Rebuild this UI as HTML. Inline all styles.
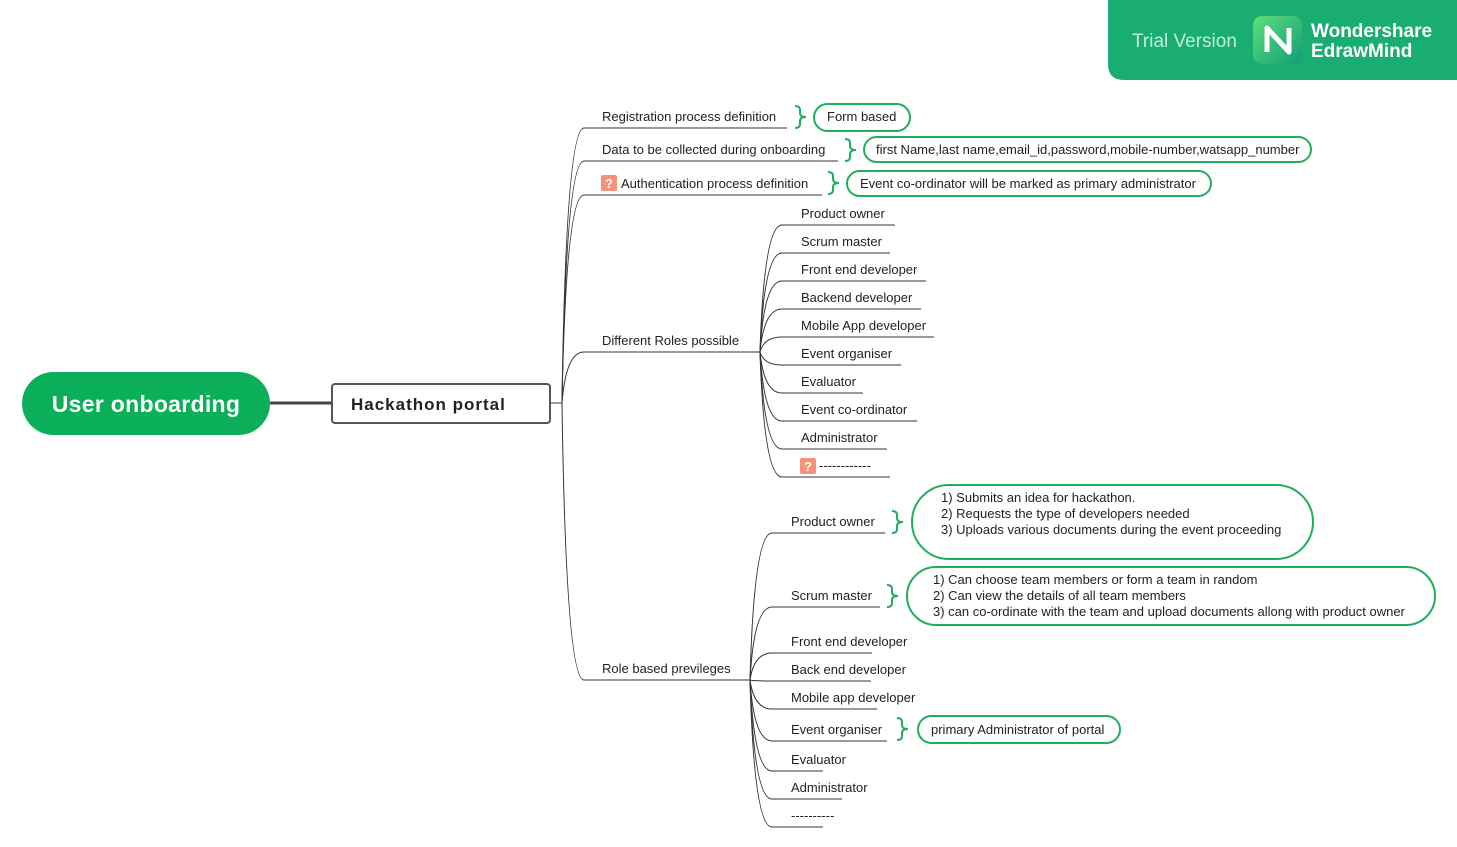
<!DOCTYPE html>
<html><head><meta charset="utf-8"><style>
body{margin:0;background:#fff;width:1457px;height:847px;overflow:hidden}
svg{display:block}
text{font-family:"Liberation Sans",sans-serif;font-size:13px;fill:#222}
.l{fill:none;stroke:#333;stroke-width:1}
.p{fill:#fff;stroke:#1fae5e;stroke-width:2}
.b{fill:none;stroke:#1fae5e;stroke-width:2}
</style></head><body>
<svg width="1457" height="847" viewBox="0 0 1457 847">
<path d="M1108 0 H1457 V80 H1124 Q1108 80 1108 64 Z" fill="#19ad72"/>
<text x="1132" y="47" style="font-size:19px;fill:#bfeedb">Trial Version</text>
<defs><linearGradient id="g" x1="0" y1="0" x2="1" y2="1"><stop offset="0" stop-color="#5de07a"/><stop offset="1" stop-color="#129c78"/></linearGradient></defs>
<rect x="1253" y="16" width="49" height="48" rx="9" fill="url(#g)"/>
<path d="M1267 52 V28 L1289 52 V28" fill="none" stroke="#fff" stroke-width="5" stroke-linejoin="round"/>
<text x="1311" y="37" style="font-size:19px;font-weight:bold;fill:#fff">Wondershare</text>
<text x="1311" y="57" style="font-size:19px;font-weight:bold;fill:#fff">EdrawMind</text>

<rect x="22" y="372" width="248" height="63" rx="31.5" fill="#0bae59"/>
<text x="146" y="412" text-anchor="middle" style="font-size:23px;font-weight:bold;fill:#fff;letter-spacing:0.3px">User onboarding</text>
<line x1="270" y1="403" x2="331" y2="403" stroke="#444" stroke-width="3"/>
<rect x="332" y="384" width="218" height="39" rx="3" fill="#fff" stroke="#555" stroke-width="2"/>
<text x="351" y="410" style="font-size:17px;font-weight:bold;fill:#222;letter-spacing:1px">Hackathon portal</text>
<line x1="551" y1="403" x2="562" y2="403" class="l"/>

<path class="l" d="M562 403 Q566 128 584 128 H787"/>
<path class="l" d="M562 403 Q566 161 584 161 H838"/>
<path class="l" d="M562 403 Q566 195 584 195 H822"/>
<path class="l" d="M562 403 Q566 352 584 352 H760"/>
<path class="l" d="M562 403 Q566 680 584 680 H750"/>
<text x="602" y="121">Registration process definition</text>
<text x="602" y="154">Data to be collected during onboarding</text>
<rect x="601" y="175" width="16" height="16" rx="2" fill="#f7927a"/>
<text x="609" y="188" text-anchor="middle" style="fill:#fff;font-weight:bold">?</text>
<text x="621" y="188">Authentication process definition</text>
<text x="602" y="345">Different Roles possible</text>
<text x="602" y="673">Role based previleges</text>

<path class="b" d="M795 106 Q800 106 800 110 V113 Q800 117 806 117 Q800 117 800 121 V124 Q800 128 795 128"/>
<rect class="p" x="814" y="104" width="96" height="27" rx="13.5"/>
<text x="827" y="121">Form based</text>
<path class="b" d="M845 139 Q850 139 850 143 V146 Q850 150 856 150 Q850 150 850 154 V157 Q850 161 845 161"/>
<rect class="p" x="864" y="137" width="447" height="25" rx="12.5"/>
<text x="876" y="154">first Name,last name,email_id,password,mobile-number,watsapp_number</text>
<path class="b" d="M828 172 Q833 172 833 176 V179 Q833 183 839 183 Q833 183 833 187 V190 Q833 194 828 194"/>
<rect class="p" x="847" y="171" width="364" height="25" rx="12.5"/>
<text x="860" y="188">Event co-ordinator will be marked as primary administrator</text>

<g>
<path class="l" d="M760 352 Q764 225 782 225 H895"/>
<path class="l" d="M760 352 Q764 253 782 253 H890"/>
<path class="l" d="M760 352 Q764 281 782 281 H926"/>
<path class="l" d="M760 352 Q764 309 782 309 H921"/>
<path class="l" d="M760 352 Q764 337 782 337 H934"/>
<path class="l" d="M760 352 Q764 365 782 365 H901"/>
<path class="l" d="M760 352 Q764 393 782 393 H863"/>
<path class="l" d="M760 352 Q764 421 782 421 H917"/>
<path class="l" d="M760 352 Q764 449 782 449 H887"/>
<path class="l" d="M760 352 Q764 477 782 477 H890"/>
<text x="801" y="218">Product owner</text>
<text x="801" y="246">Scrum master</text>
<text x="801" y="274">Front end developer</text>
<text x="801" y="302">Backend developer</text>
<text x="801" y="330">Mobile App developer</text>
<text x="801" y="358">Event organiser</text>
<text x="801" y="386">Evaluator</text>
<text x="801" y="414">Event co-ordinator</text>
<text x="801" y="442">Administrator</text>
<rect x="800" y="458" width="16" height="16" rx="2" fill="#f7927a"/>
<text x="808" y="471" text-anchor="middle" style="fill:#fff;font-weight:bold">?</text>
<text x="819" y="470">------------</text>
</g>

<g>
<path class="l" d="M750 680 Q754 533 772 533 H885"/>
<path class="l" d="M750 680 Q754 607 772 607 H880"/>
<path class="l" d="M750 680 Q754 653 772 653 H872"/>
<path class="l" d="M750 680 Q754 681 772 681 H871"/>
<path class="l" d="M750 680 Q754 709 772 709 H877"/>
<path class="l" d="M750 680 Q754 741 772 741 H887"/>
<path class="l" d="M750 680 Q754 771 772 771 H823"/>
<path class="l" d="M750 680 Q754 799 772 799 H842"/>
<path class="l" d="M750 680 Q754 827 772 827 H823"/>
<text x="791" y="526">Product owner</text>
<text x="791" y="600">Scrum master</text>
<text x="791" y="646">Front end developer</text>
<text x="791" y="674">Back end developer</text>
<text x="791" y="702">Mobile app developer</text>
<text x="791" y="734">Event organiser</text>
<text x="791" y="764">Evaluator</text>
<text x="791" y="792">Administrator</text>
<text x="791" y="820">----------</text>

<path class="b" d="M892 511 Q897 511 897 515 V518 Q897 522 903 522 Q897 522 897 526 V529 Q897 533 892 533"/>
<rect class="p" x="912" y="485" width="401" height="74" rx="37"/>
<text x="941" y="502">1) Submits an idea for hackathon.</text>
<text x="941" y="518">2) Requests the type of developers needed</text>
<text x="941" y="534">3) Uploads various documents during the event proceeding</text>

<path class="b" d="M887 585 Q892 585 892 589 V592 Q892 596 898 596 Q892 596 892 600 V603 Q892 607 887 607"/>
<rect class="p" x="907" y="567" width="528" height="58" rx="29"/>
<text x="933" y="584">1) Can choose team members or form a team in random</text>
<text x="933" y="600">2) Can view the details of all team members</text>
<text x="933" y="616">3) can co-ordinate with the team and upload documents allong with product owner</text>

<path class="b" d="M897 718 Q902 718 902 722 V725 Q902 729 908 729 Q902 729 902 733 V736 Q902 740 897 740"/>
<rect class="p" x="918" y="716" width="202" height="27" rx="13.5"/>
<text x="931" y="734">primary Administrator of portal</text>
</g>
</svg>
</body></html>
